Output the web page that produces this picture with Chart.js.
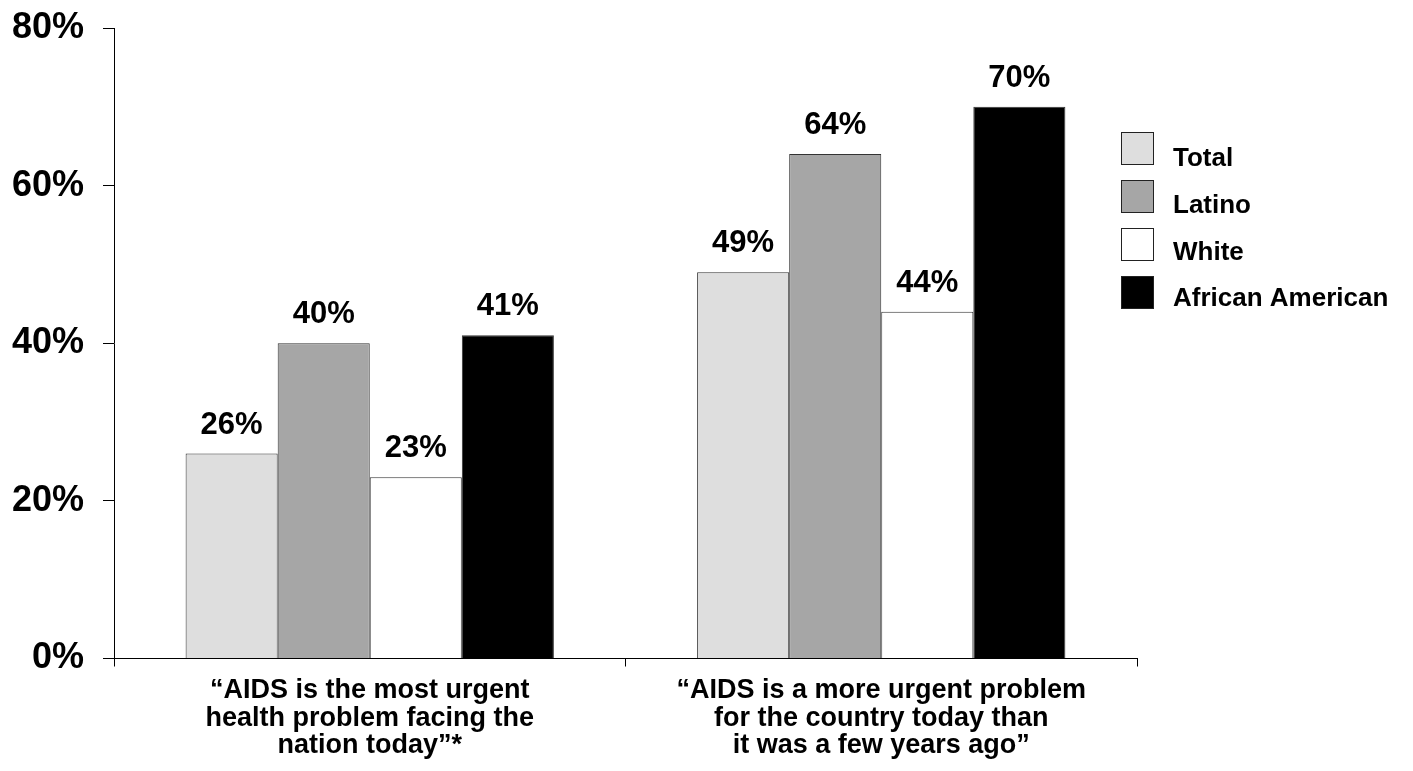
<!DOCTYPE html>
<html>
<head>
<meta charset="utf-8">
<script src="https://cdn.jsdelivr.net/npm/chart.js@4"></script>
<style>
    html, body { margin: 0; padding: 0; background: #fff; }
    #wrap { width: 1413px; height: 771px; position: relative; }
</style>
</head>
<body>
<div id="wrap"><canvas id="aidsChart"></canvas></div>
<script>
const categories = [
    ['\u201CAIDS is the most urgent', 'health problem facing the', 'nation today\u201D*'],
    ['\u201CAIDS is a more urgent problem', 'for the country today than', 'it was a few years ago\u201D']
];
const seriesNames = ['Total', 'Latino', 'White', 'African American'];
const totalValues = [26, 49];
const latinoValues = [40, 64];
const whiteValues = [23, 44];
const africanAmericanValues = [41, 70];
const yTicks = [0, 20, 40, 60, 80];

const FONT = '"Liberation Sans", Arial, sans-serif';
const fills = ['#dedede', '#a6a6a6', '#ffffff', '#000000'];

// value labels above each bar
const valueLabels = {
    id: 'valueLabels',
    afterDatasetsDraw(chart) {
        const ctx = chart.ctx;
        ctx.save();
        ctx.font = 'bold 31px ' + FONT;
        ctx.fillStyle = '#000';
        ctx.textAlign = 'center';
        ctx.textBaseline = 'alphabetic';
        chart.data.datasets.forEach((ds, i) => {
            chart.getDatasetMeta(i).data.forEach((bar, j) => {
                ctx.fillText(ds.data[j] + '%', bar.x, bar.y - 20);
            });
        });
        ctx.restore();
    }
};

// legend on the right, overlapping the chart's right margin
const sideLegend = {
    id: 'sideLegend',
    afterDraw(chart) {
        const ctx = chart.ctx;
        ctx.save();
        ctx.font = 'bold 26px ' + FONT;
        ctx.textAlign = 'left';
        ctx.textBaseline = 'alphabetic';
        chart.data.datasets.forEach((ds, i) => {
            const top = 132 + i * 48;
            ctx.fillStyle = ds.backgroundColor;
            ctx.fillRect(1121, top, 33, 33);
            ctx.strokeStyle = '#222';
            ctx.lineWidth = 1;
            ctx.strokeRect(1121.5, top + 0.5, 32, 32);
            ctx.fillStyle = '#000';
            ctx.fillText(ds.label, 1173, 166 + i * 46.8);
        });
        ctx.restore();
    }
};

const seriesData = [totalValues, latinoValues, whiteValues, africanAmericanValues];

new Chart(document.getElementById('aidsChart'), {
    type: 'bar',
    data: {
        labels: categories,
        datasets: seriesNames.map((name, i) => ({
            label: name,
            data: seriesData[i],
            backgroundColor: fills[i],
            borderColor: '#333',
            borderWidth: 1,
            barPercentage: 1,
            categoryPercentage: 0.72
        }))
    },
    options: {
        responsive: true,
        maintainAspectRatio: false,
        animation: false,
        layout: {
            padding: { top: 28, right: 276, left: 0, bottom: 0 }
        },
        plugins: {
            legend: { display: false },
            tooltip: { enabled: false }
        },
        scales: {
            x: {
                offset: true,
                grid: {
                    offset: true,
                    drawOnChartArea: false,
                    drawTicks: true,
                    tickLength: 8,
                    color: '#000'
                },
                border: { color: '#000', width: 1 },
                ticks: {
                    color: '#000',
                    padding: 10,
                    maxRotation: 0,
                    autoSkip: false,
                    font: { family: FONT, size: 27, weight: 'bold', lineHeight: 1.03 }
                },
                afterFit: (scale) => {
                    scale.height = 112.5;
                    scale.paddingLeft = 0;
                    scale.paddingRight = 0;
                }
            },
            y: {
                min: 0,
                max: 80,
                afterBuildTicks: (scale) => { scale.ticks = yTicks.map(v => ({ value: v })); },
                grid: {
                    drawOnChartArea: false,
                    drawTicks: true,
                    tickLength: 11,
                    color: '#000'
                },
                border: { color: '#000', width: 1 },
                ticks: {
                    color: '#000',
                    padding: 19,
                    font: { family: FONT, size: 36, weight: 'bold' },
                    callback: (v) => v + '%'
                },
                afterFit: (scale) => {
                    scale.width = 114;
                    scale.paddingTop = 0;
                    scale.paddingBottom = 0;
                }
            }
        }
    },
    plugins: [valueLabels, sideLegend]
});
</script>
</body>
</html>
